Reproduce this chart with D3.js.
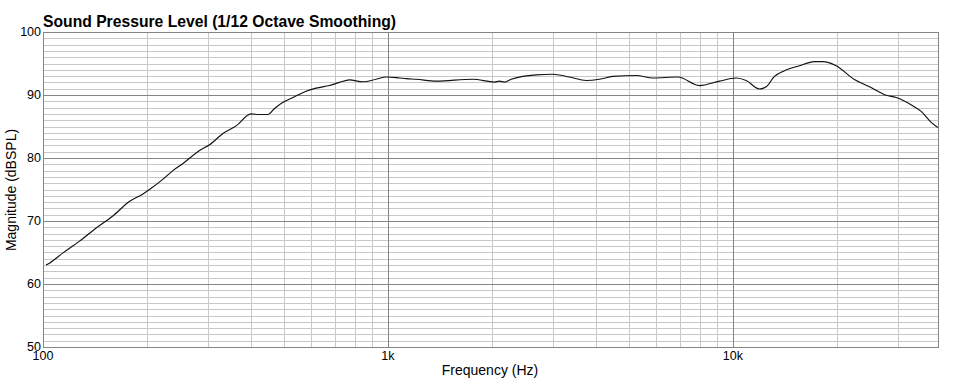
<!DOCTYPE html>
<meta charset="utf-8">
<head>
  <title>Sound Pressure Level</title>
  <style>
    body { margin: 0; background: #fff; }
    text { font-family: "Liberation Sans", Arial, Helvetica, sans-serif; }
  </style>
</head>
<body>
  <script src="https://cdn.jsdelivr.net/npm/d3@7/dist/d3.min.js"></script>
  <div id="chart"></div>
  <script>

    // frequency response
    var freqs = [102, 104.4, 114, 127.6, 142.6, 159.4, 178, 194.9, 203.6, 222.4,
      237.9, 254, 284.4, 304, 332.4, 362.9, 401, 424, 448, 470, 495, 530, 579,
      619, 677, 723, 773, 845, 924, 988, 1080, 1129, 1207, 1380, 1761, 2036,
      2105, 2176, 2276, 2459, 2689, 3004, 3358, 3753, 4103, 4484, 5242, 5856,
      6918, 7997, 9140, 10216, 10921, 11935, 12483, 13194, 14105, 15589, 17229,
      18208, 19912, 22500, 24876, 27800, 29718, 33200, 35120, 37540, 39240];
    var spl = [63.0, 63.3, 64.9, 66.8, 68.9, 70.8, 73.1, 74.3, 75.0, 76.6,
      78.0, 79.1, 81.2, 82.1, 83.9, 85.1, 87.0, 86.9, 86.9, 87.9, 88.8, 89.6, 90.6,
      91.1, 91.5, 92.0, 92.4, 92.1, 92.5, 92.85, 92.7, 92.6, 92.5, 92.2, 92.5, 92.05,
      92.2, 92.05, 92.5, 92.95, 93.2, 93.3, 92.85, 92.3, 92.5, 92.95, 93.1, 92.7,
      92.85, 91.5, 92.2, 92.7, 92.3, 90.95, 91.3, 92.95, 93.85, 94.65, 95.3,
      95.3, 94.65, 92.45, 91.3, 89.95, 89.6, 88.3, 87.4, 85.65, 84.85];

    var xTicks = [100, 1000, 10000];
    var xTickLabels = ['100', '1k', '10k'];
    var yTicks = [50, 60, 70, 80, 90, 100];

    var width = 970;
    var height = 385;
    var plotL = 43, plotR = 938, plotT = 32, plotB = 347;

    var x = d3.scaleLog().domain([100, 39300]).range([plotL, plotR]);
    var y = d3.scaleLinear().domain([50, 100]).range([plotB, plotT]);

    var svg = d3.select('#chart')
      .append('svg')
      .attr('width', width)
      .attr('height', height);

    var px = function(v) { return Math.round(v) + 0.5; };

    // minor grid
    var minorX = [];
    [100, 1000, 10000].forEach(function(d) {
      for (var k = 2; k <= 9; k++) if (d * k < 39300) minorX.push(d * k);
    });
    var minorY = d3.range(51, 100).filter(function(d) { return d % 10 !== 0; });

    var grid = svg.append('g');
    grid.selectAll('.mx').data(minorX).enter().append('line')
      .attr('x1', function(d) { return px(x(d)); })
      .attr('x2', function(d) { return px(x(d)); })
      .attr('y1', plotT).attr('y2', plotB)
      .attr('stroke', '#c8c8c8');
    grid.selectAll('.my').data(minorY).enter().append('line')
      .attr('x1', plotL).attr('x2', plotR)
      .attr('y1', function(d) { return px(y(d)); })
      .attr('y2', function(d) { return px(y(d)); })
      .attr('stroke', '#c8c8c8');

    // major grid
    grid.selectAll('.Mx').data([1000, 10000]).enter().append('line')
      .attr('x1', function(d) { return px(x(d)); })
      .attr('x2', function(d) { return px(x(d)); })
      .attr('y1', plotT).attr('y2', plotB)
      .attr('stroke', '#858585');
    grid.selectAll('.My').data([60, 70, 80, 90]).enter().append('line')
      .attr('x1', plotL).attr('x2', plotR)
      .attr('y1', function(d) { return px(y(d)); })
      .attr('y2', function(d) { return px(y(d)); })
      .attr('stroke', '#858585');

    svg.append('rect')
      .attr('x', plotL + 0.5).attr('y', plotT + 0.5)
      .attr('width', plotR - plotL).attr('height', plotB - plotT)
      .attr('fill', 'none')
      .attr('stroke', '#858585');

    // response curve
    var line = d3.line()
      .x(function(d) { return x(d[0]); })
      .y(function(d) { return y(d[1]); })
      .curve(d3.curveMonotoneX);

    svg.append('path')
      .datum(d3.zip(freqs, spl))
      .attr('d', line)
      .attr('fill', 'none')
      .attr('stroke', '#111')
      .attr('stroke-width', 1.15);

    // tick labels
    svg.selectAll('.xl').data(xTicks).enter().append('text')
      .attr('x', function(d) { return x(d); })
      .attr('y', plotB + 13)
      .attr('text-anchor', 'middle')
      .attr('font-size', 12.5)
      .text(function(d, i) { return xTickLabels[i]; });

    svg.selectAll('.yl').data(yTicks).enter().append('text')
      .attr('x', plotL - 2)
      .attr('y', function(d) { return y(d) + 4; })
      .attr('text-anchor', 'end')
      .attr('font-size', 12.5)
      .text(function(d) { return d; });

    svg.append('text')
      .attr('x', plotL)
      .attr('y', 27)
      .attr('font-size', 15.7)
      .attr('font-weight', 'bold')
      .text('Sound Pressure Level (1/12 Octave Smoothing)');

    svg.append('text')
      .attr('x', 490)
      .attr('y', 375)
      .attr('text-anchor', 'middle')
      .attr('font-size', 14)
      .text('Frequency (Hz)');

    svg.append('text')
      .attr('transform', 'translate(16,' + 190 + ') rotate(-90)')
      .attr('text-anchor', 'middle')
      .attr('font-size', 14)
      .text('Magnitude (dBSPL)');
  </script>
</body>
